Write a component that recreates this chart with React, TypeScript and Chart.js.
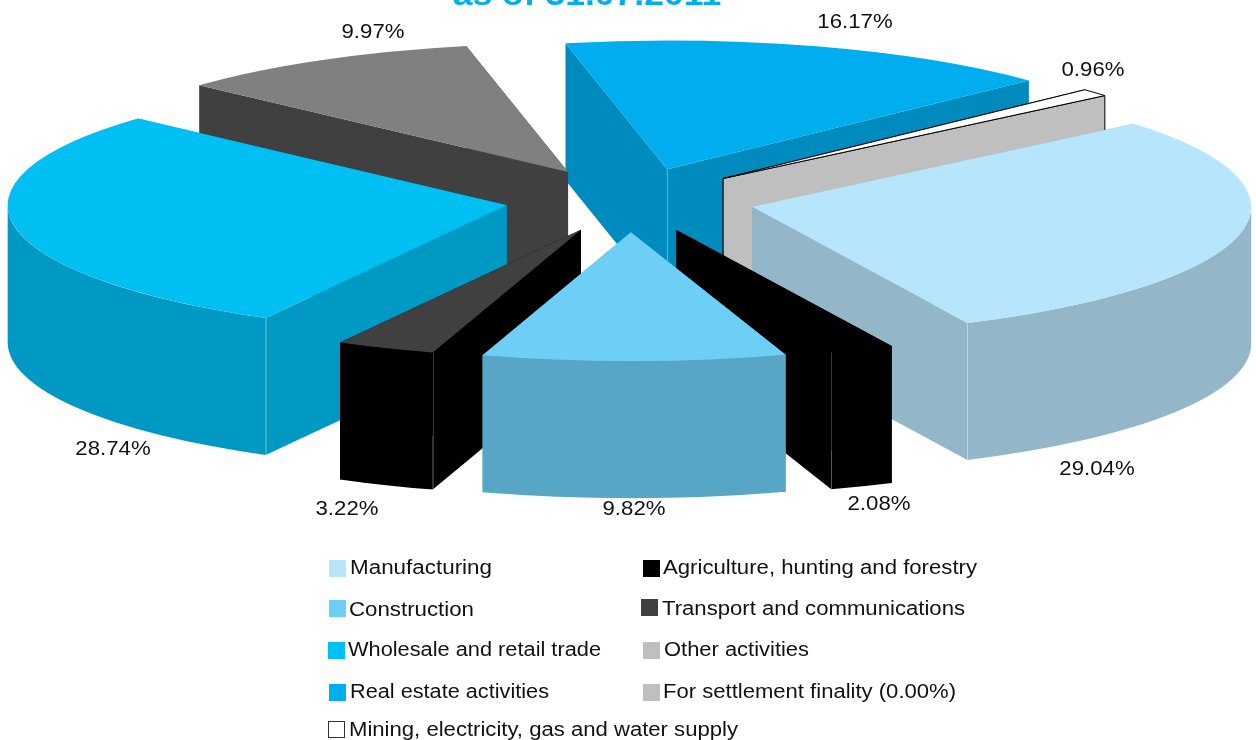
import React, { useEffect, useRef } from "react";
import { Chart, registerables } from "chart.js";

Chart.register(...registerables);

// Sectors in the order they run clockwise round the pie.
const categories = [
  "Manufacturing",
  "Agriculture, hunting and forestry",
  "Construction",
  "Transport and communications",
  "Wholesale and retail trade",
  "Other activities",
  "Real estate activities",
  "For settlement finality (0.00%)",
  "Mining, electricity, gas and water supply",
];
const shares = [29.04, 2.08, 9.82, 3.22, 28.74, 9.97, 16.17, 0, 0.96];
const topColors = ["#B7E5FB", "#000000", "#6DCFF6", "#404040", "#00BFF3", "#808080", "#00ADEF", "#BFBFBF", "#FFFFFF"];
const wallColors = ["#94B6C9", "#000000", "#58A6C5", "#000000", "#0099C3", "#404040", "#008BBF", "#BFBFBF", "#BFBFBF"];
const swatchColors = ["#B7E5FB", "#000000", "#6DCFF6", "#404040", "#00BFF3", "#BFBFBF", "#00ADEF", "#BFBFBF", "#FFFFFF"];

const titleLine = "as of 31.07.2011";

// Layout of the page: legend rows and the value captions beside the sectors.
const legendLayout = [
  { x: 329, y: 560, tx: 350, by: 574, w: 142 },
  { x: 643, y: 560, tx: 663, by: 574, w: 314 },
  { x: 329, y: 600, tx: 349, by: 616, w: 125 },
  { x: 641, y: 599, tx: 662, by: 615, w: 303 },
  { x: 328, y: 642, tx: 348, by: 656, w: 253 },
  { x: 643, y: 642, tx: 664, by: 656, w: 145 },
  { x: 329, y: 684, tx: 350, by: 698, w: 199 },
  { x: 643, y: 684, tx: 663, by: 698, w: 293 },
  { x: 328, y: 721, tx: 349, by: 736, w: 389 },
];
const captionLayout = [
  { x: 1097, y: 475 },
  { x: 879, y: 510 },
  { x: 634, y: 515 },
  { x: 347, y: 515 },
  { x: 113, y: 455 },
  { x: 373, y: 38 },
  { x: 855, y: 28 },
  null,
  { x: 1093, y: 76 },
];

const FONT_FAMILY = '"Liberation Sans", Arial, sans-serif';
const TEXT_COLOR = "#111111";
const TEXT_STRETCH = 1.11;
const SQUASH = 0.258;
const DEPTH = 137;
const RADIUS = 499;
const EXPLODE = 125;

// Glyphs are set slightly wide, so text is drawn through a horizontal stretch.
function wideText(
  ctx: CanvasRenderingContext2D,
  text: string,
  x: number,
  y: number,
  font: string,
  color: string,
  align: CanvasTextAlign,
  width?: number,
) {
  ctx.save();
  ctx.font = font;
  ctx.fillStyle = color;
  ctx.textAlign = align;
  ctx.textBaseline = "alphabetic";
  const stretch = width ? width / ctx.measureText(text).width : TEXT_STRETCH;
  ctx.translate(x, y);
  ctx.scale(stretch, 1);
  ctx.fillText(text, 0, 0);
  ctx.restore();
}

// Extrudes one sector downward, then lets the arc element paint its squashed top.
function drawSector(ctx: CanvasRenderingContext2D, arc: any, index: number) {
  const { x, y, startAngle: s, endAngle: e, outerRadius: r } = arc;
  const mid = (s + e) / 2;
  const ax = x + Math.cos(mid) * EXPLODE;
  const ay = y + Math.sin(mid) * EXPLODE * SQUASH;
  const rimX = (a: number) => ax + Math.cos(a) * r;
  const rimY = (a: number) => ay + Math.sin(a) * r * SQUASH;
  const outlined = topColors[index] === "#FFFFFF";

  const finish = () => {
    ctx.fillStyle = wallColors[index];
    ctx.fill();
    if (outlined) {
      ctx.strokeStyle = "#000000";
      ctx.lineWidth = 1;
      ctx.stroke();
    }
  };

  // Radial faces running from the apex to each rim corner.
  for (const a of [s, e]) {
    ctx.beginPath();
    ctx.moveTo(ax, ay);
    ctx.lineTo(rimX(a), rimY(a));
    ctx.lineTo(rimX(a), rimY(a) + DEPTH);
    ctx.lineTo(ax, ay + DEPTH);
    ctx.closePath();
    finish();
  }

  // Curved outer wall, only over the part of the rim that faces the viewer.
  for (let n = -1; n <= 2; n++) {
    const lo = Math.max(s, n * 2 * Math.PI);
    const hi = Math.min(e, n * 2 * Math.PI + Math.PI);
    if (hi <= lo) continue;
    ctx.beginPath();
    ctx.ellipse(ax, ay, r, r * SQUASH, 0, lo, hi);
    ctx.ellipse(ax, ay + DEPTH, r, r * SQUASH, 0, hi, lo, true);
    ctx.closePath();
    finish();
  }

  // Faint highlights along the vertical edges that can be seen.
  const endFaceSeen = Math.cos(e) > 0;
  const startFaceSeen = Math.cos(s) < 0;
  const seams: [number, number][] = [];
  if (endFaceSeen && Math.sin(e) > 0) seams.push([rimX(e), rimY(e)]);
  if (startFaceSeen && Math.sin(s) > 0) seams.push([rimX(s), rimY(s)]);
  if (endFaceSeen && startFaceSeen) seams.push([ax, ay]);
  ctx.strokeStyle = "rgba(255,255,255,0.22)";
  ctx.lineWidth = 1;
  for (const [px, py] of seams) {
    ctx.beginPath();
    ctx.moveTo(Math.round(px) + 0.5, py);
    ctx.lineTo(Math.round(px) + 0.5, py + DEPTH);
    ctx.stroke();
  }

  // Top face: squash the view, pull the sector out along its bisector, and paint the arc.
  ctx.save();
  ctx.translate(0, y);
  ctx.scale(1, SQUASH);
  ctx.translate(0, -y);
  ctx.translate(Math.cos(mid) * EXPLODE, Math.sin(mid) * EXPLODE);
  arc.draw(ctx);
  ctx.restore();

  if (outlined) {
    ctx.beginPath();
    ctx.moveTo(ax, ay);
    ctx.ellipse(ax, ay, r, r * SQUASH, 0, s, e);
    ctx.closePath();
    ctx.strokeStyle = "#000000";
    ctx.lineWidth = 1;
    ctx.stroke();
  }
}

const solidPie = {
  id: "solidPie",
  beforeDatasetDraw(chart: any, args: any) {
    const ctx: CanvasRenderingContext2D = chart.ctx;
    const arcs = args.meta.data as any[];
    // Painter's order: sectors further from the viewer go first.
    const order = arcs
      .map((arc, i) => ({ arc, i, depth: Math.sin((arc.startAngle + arc.endAngle) / 2) }))
      .filter((item) => item.arc.circumference > 0)
      .sort((a, b) => a.depth - b.depth);
    for (const item of order) drawSector(ctx, item.arc, item.i);
    return false;
  },
  afterDraw(chart: any) {
    const ctx: CanvasRenderingContext2D = chart.ctx;
    wideText(ctx, titleLine, 587, 5, `bold 32px ${FONT_FAMILY}`, "#00AEEF", "center");

    shares.forEach((share, i) => {
      const at = captionLayout[i];
      if (at) wideText(ctx, `${share.toFixed(2)}%`, at.x, at.y, `20px ${FONT_FAMILY}`, TEXT_COLOR, "center");
    });

    categories.forEach((name, i) => {
      const row = legendLayout[i];
      ctx.fillStyle = swatchColors[i];
      ctx.fillRect(row.x, row.y, 17, 17);
      if (swatchColors[i] === "#FFFFFF") {
        ctx.strokeStyle = "#333333";
        ctx.lineWidth = 1;
        ctx.strokeRect(row.x + 0.5, row.y + 0.5, 16, 16);
      }
      wideText(ctx, name, row.tx, row.by, `20px ${FONT_FAMILY}`, TEXT_COLOR, "left", row.w);
    });
  },
};

export default function App() {
  const canvasRef = useRef<HTMLCanvasElement>(null);

  useEffect(() => {
    const chart = new Chart(canvasRef.current as HTMLCanvasElement, {
      type: "pie",
      data: {
        labels: categories,
        datasets: [
          {
            data: shares,
            backgroundColor: topColors,
            borderWidth: 0,
          },
        ],
      },
      options: {
        responsive: false,
        animation: false,
        rotation: 49.9,
        radius: RADIUS,
        layout: { padding: { left: 4, right: 0, top: 0, bottom: 340 } },
        plugins: {
          legend: { display: false },
          title: { display: false },
          tooltip: { enabled: false },
        },
      },
      plugins: [solidPie],
    } as any);
    return () => chart.destroy();
  }, []);

  return (
    <div style={{ position: "fixed", left: 0, top: 0, width: 1256, height: 740, background: "#FFFFFF" }}>
      <canvas ref={canvasRef} width={1256} height={740} style={{ display: "block", width: 1256, height: 740 }} />
    </div>
  );
}
